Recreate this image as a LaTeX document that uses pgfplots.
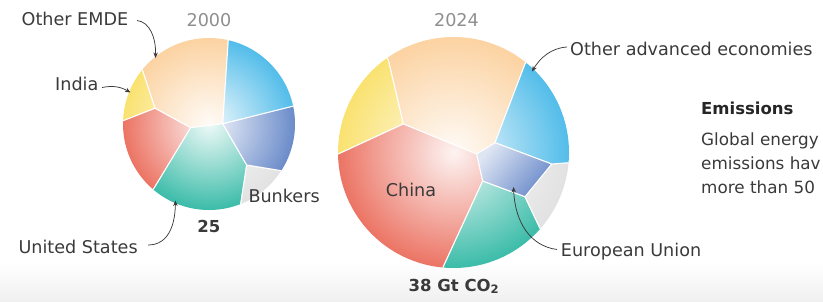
\documentclass[border=0pt]{standalone}
\usepackage{pgfplots}
\pgfplotsset{compat=1.18}
\usepackage{fontspec}
\setmainfont{DejaVu Sans}
\usetikzlibrary{arrows.meta,fadings}
\definecolor{cOE}{HTML}{FCD3A2}
\definecolor{cIN}{HTML}{FAE270}
\definecolor{cCN}{HTML}{EC7464}
\definecolor{cUS}{HTML}{3BBCA9}
\definecolor{cEU}{HTML}{6A8BCA}
\definecolor{cOA}{HTML}{52BDEA}
\definecolor{cBK}{HTML}{E2E2E2}
\definecolor{txt}{HTML}{3A3A3A}
\definecolor{yr}{HTML}{8E8E8E}
\tikzfading[name=cfade, inner color=transparent!8, outer color=transparent!100]
\pgfplotsset{cell/.style={draw=white, line width=1bp, line join=round, mark=none}}
\newcommand{\lab}{\fontsize{17.6bp}{21bp}\selectfont}
\newcommand{\rlab}{\fontsize{16.8bp}{20bp}\selectfont}
\newcommand{\blab}{\bfseries\fontsize{16.5bp}{20bp}\selectfont}
\begin{document}
\begin{tikzpicture}
\useasboundingbox (0,0) rectangle (823bp,302bp);
\clip (0,0) rectangle (823bp,302bp);
\begin{axis}[at={(0,0)}, anchor=south west, scale only axis,
  width=823bp, height=302bp, xmin=0, xmax=823, ymin=0, ymax=302,
  y dir=reverse, hide axis, clip=false]
\shade[top color=white, bottom color=black!6] (axis cs:0,262) rectangle (axis cs:823,302);
% ---------- 2000 ----------
\begin{scope}
\clip (axis cs:209,124) circle[radius=86bp];
\addplot[cell, fill=cOE] coordinates {(142.7,71) (155,108.3) (190.7,127.7) (222.7,123.7) (228.3,40) (247.6,-43.6) (74.6,16.6)} -- cycle;
\addplot[cell, fill=cIN] coordinates {(123.3,120.7) (155,108.3) (142.7,71) (74.6,16.6) (37.1,117.3)} -- cycle;
\addplot[cell, fill=cCN] coordinates {(154,188.3) (190.7,127.7) (155,108.3) (123.3,120.7) (37.1,117.3) (97.2,254.7)} -- cycle;
\addplot[cell, fill=cUS] coordinates {(240.7,204) (246.7,165) (222.7,123.7) (190.7,127.7) (154,188.3) (97.2,254.7) (272.3,284)} -- cycle;
\addplot[cell, fill=cBK] coordinates {(281.7,170.7) (246.7,165) (240.7,204) (272.3,284) (353.7,216.9)} -- cycle;
\addplot[cell, fill=cEU] coordinates {(293.3,106) (222.7,123.7) (246.7,165) (281.7,170.7) (353.7,216.9) (377.2,88.1)} -- cycle;
\addplot[cell, fill=cOA] coordinates {(228.3,40) (222.7,123.7) (293.3,106) (377.2,88.1) (247.6,-43.6)} -- cycle;
\fill[white, path fading=cfade] (axis cs:209,124) circle[radius=86bp];
\end{scope}
% ---------- 2024 ----------
\begin{scope}
\clip (axis cs:453.5,152.5) circle[radius=115.5bp];
\addplot[cell, fill=cOE] coordinates {(388.3,60) (403.3,124) (476.7,154) (495,142.7) (525,64) (598.7,-27.2) (320.5,-36.3)} -- cycle;
\addplot[cell, fill=cIN] coordinates {(338.3,154) (403.3,124) (388.3,60) (320.5,-36.3) (222.5,155.5)} -- cycle;
\addplot[cell, fill=cCN] coordinates {(443.3,266.7) (482.7,181) (476.7,154) (403.3,124) (338.3,154) (222.5,155.5) (433,382.6)} -- cycle;
\addplot[cell, fill=cUS] coordinates {(540,228.3) (525,196.7) (482.7,181) (443.3,266.7) (433,382.6) (627.2,304.8)} -- cycle;
\addplot[cell, fill=cBK] coordinates {(568.3,162.7) (551.7,164) (525,196.7) (540,228.3) (627.2,304.8) (683.6,172.9)} -- cycle;
\addplot[cell, fill=cOA] coordinates {(525,64) (495,142.7) (551.7,164) (568.3,162.7) (683.6,172.9) (598.7,-27.2)} -- cycle;
\fill[white, path fading=cfade] (axis cs:453.5,152.5) circle[radius=115.5bp];
\addplot[cell, top color=cEU!22!white, bottom color=cEU, shading angle=50] coordinates {(476.7,154) (495,142.7) (551.7,164) (525,196.7) (482.7,181)} -- cycle;
\end{scope}
% ---------- labels ----------
\node[anchor=base, text=yr, font=\lab] at (axis cs:209,26) {2000};
\node[anchor=base, text=yr, font=\lab] at (axis cs:456.5,26) {2024};
\node[anchor=base west, text=txt, font=\lab, inner sep=0pt] at (axis cs:21.5,25.7) {Other EMDE};
\node[anchor=base west, text=txt, font=\lab, inner sep=0pt] at (axis cs:55,90.5) {India};
\node[anchor=base west, text=txt, font=\lab, inner sep=0pt] at (axis cs:248.3,202.5) {Bunkers};
\node[anchor=base west, text=txt, font=\lab, inner sep=0pt] at (axis cs:18.3,253) {United States};
\node[anchor=base, text=txt, font=\blab, inner sep=0pt] at (axis cs:208.8,232.5) {25};
\node[anchor=base, text=txt, font=\lab, inner sep=0pt] at (axis cs:411,196.5) {China};
\node[anchor=base west, text=txt, font=\blab, inner sep=0pt] at (axis cs:408.5,291) {38 Gt CO\textsubscript{2}};
\node[anchor=base west, text=txt, font=\lab, inner sep=0pt] at (axis cs:570,55) {Other advanced economies};
\node[anchor=base west, text=txt, font=\lab, inner sep=0pt] at (axis cs:560.7,256.5) {European Union};
\node[anchor=base west, text=black!85, font=\blab, inner sep=0pt] at (axis cs:701,114) {Emissions};
\node[anchor=base west, text=txt, font=\rlab, inner sep=0pt] at (axis cs:701,145.5) {Global energy};
\node[anchor=base west, text=txt, font=\rlab, inner sep=0pt] at (axis cs:701,169.5) {emissions hav};
\node[anchor=base west, text=txt, font=\rlab, inner sep=0pt] at (axis cs:701,193.5) {more than 50};
% ---------- arrows ----------
\begin{scope}[txt, line width=0.75bp, -{Stealth[length=5.5bp,width=4.5bp]}]
\draw (axis cs:137,20.5) .. controls (axis cs:150,22) and (axis cs:156,38) .. (axis cs:155.5,58);
\draw (axis cs:102,87.5) .. controls (axis cs:114,85) and (axis cs:122,87.5) .. (axis cs:130.5,92.5);
\draw (axis cs:148,245) .. controls (axis cs:168,245) and (axis cs:175,226) .. (axis cs:175.5,200.5);
\draw (axis cs:567,47) .. controls (axis cs:551,48) and (axis cs:540,58) .. (axis cs:532,71.5);
\draw (axis cs:557,249.5) .. controls (axis cs:530,246) and (axis cs:515,222) .. (axis cs:513.5,187);
\end{scope}
\end{axis}
\end{tikzpicture}
\end{document}
